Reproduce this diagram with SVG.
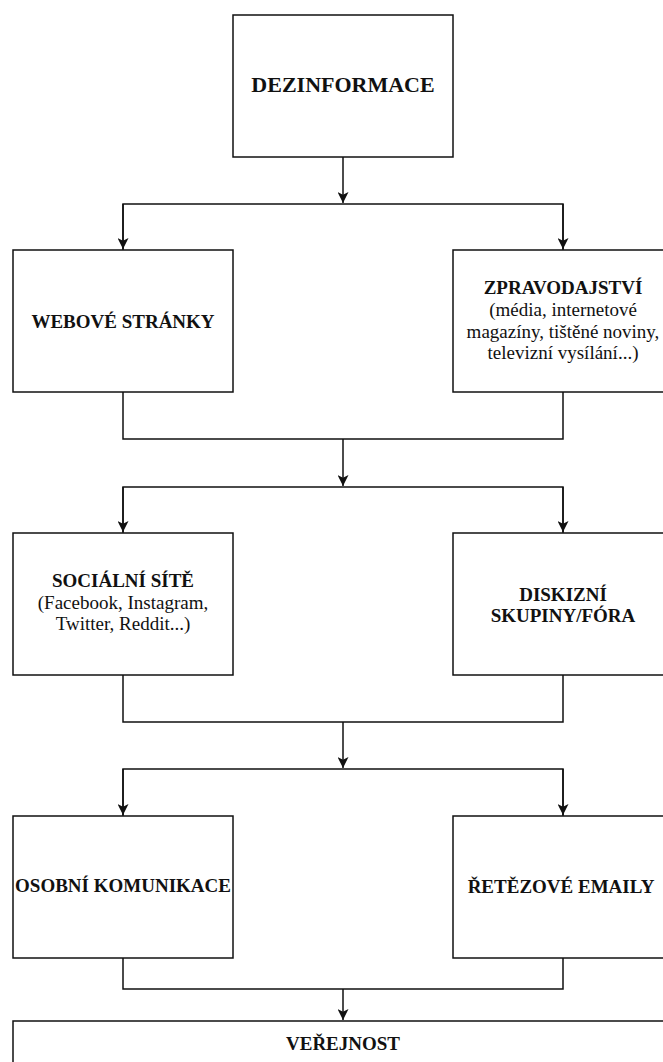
<svg xmlns="http://www.w3.org/2000/svg" width="663" height="1062" viewBox="0 0 663 1062">
<style>
.box{fill:#fff;stroke:#111;stroke-width:1.5}
.ln{fill:none;stroke:#111;stroke-width:1.5}
text{font-family:'Liberation Serif','Tinos','Times New Roman','DejaVu Serif',serif;font-size:19px;fill:#111;text-anchor:middle}
.b{font-weight:bold}
.title{font-size:22px}
</style>
<defs>
<marker id="arr" viewBox="0 0 10 10" refX="10" refY="5" markerWidth="11" markerHeight="11" markerUnits="userSpaceOnUse" orient="auto">
<path d="M0,0 L10,5 L0,10 L2.5,5 z" fill="#111"/>
</marker>
</defs>
<rect width="663" height="1062" fill="#fff"/>
<g id="connectors">
<path class="ln" d="M343,157 V203" marker-end="url(#arr)"/>
<path class="ln" d="M123,250 V204 H563 V250"/>
<path class="ln" d="M123,204 V249" marker-end="url(#arr)"/>
<path class="ln" d="M563,204 V249" marker-end="url(#arr)"/>
<path class="ln" d="M123,392 V439 H563 V392"/>
<path class="ln" d="M343,439 V486" marker-end="url(#arr)"/>
<path class="ln" d="M123,533 V487 H563 V533"/>
<path class="ln" d="M123,487 V532" marker-end="url(#arr)"/>
<path class="ln" d="M563,487 V532" marker-end="url(#arr)"/>
<path class="ln" d="M123,675 V722 H563 V675"/>
<path class="ln" d="M343,722 V768" marker-end="url(#arr)"/>
<path class="ln" d="M123,816 V769 H563 V816"/>
<path class="ln" d="M123,769 V815" marker-end="url(#arr)"/>
<path class="ln" d="M563,769 V815" marker-end="url(#arr)"/>
<path class="ln" d="M123,958 V989 H563 V958"/>
<path class="ln" d="M343,989 V1020" marker-end="url(#arr)"/>
</g>
<g id="dezinformace">
<rect class="box" x="233" y="15" width="220" height="142"/>
<text class="b title" x="343" y="92">DEZINFORMACE</text>
</g>
<g id="webove-stranky">
<rect class="box" x="13" y="250" width="220" height="142"/>
<text class="b" x="123" y="328">WEBOVÉ STRÁNKY</text>
</g>
<g id="zpravodajstvi">
<rect class="box" x="453" y="250" width="220" height="142"/>
<text x="563" y="294"><tspan class="b">ZPRAVODAJSTVÍ</tspan><tspan x="563" dy="22">(média, internetové</tspan><tspan x="563" dy="21.5">magazíny, tištěné noviny,</tspan><tspan x="563" dy="21.5">televizní vysílání...)</tspan></text>
</g>
<g id="socialni-site">
<rect class="box" x="13" y="533" width="220" height="142"/>
<text x="123" y="587"><tspan class="b">SOCIÁLNÍ SÍTĚ</tspan><tspan x="123" dy="21.5">(Facebook, Instagram,</tspan><tspan x="123" dy="21.5">Twitter, Reddit...)</tspan></text>
</g>
<g id="diskizni-skupiny">
<rect class="box" x="453" y="533" width="220" height="142"/>
<text class="b" x="563" y="600.5"><tspan>DISKIZNÍ</tspan><tspan x="563" dy="21.5">SKUPINY/FÓRA</tspan></text>
</g>
<g id="osobni-komunikace">
<rect class="box" x="13" y="816" width="220" height="142"/>
<text class="b" x="123" y="892">OSOBNÍ KOMUNIKACE</text>
</g>
<g id="retezove-emaily">
<rect class="box" x="453" y="816" width="220" height="142"/>
<text class="b" x="561" y="892.5">ŘETĚZOVÉ EMAILY</text>
</g>
<g id="verejnost">
<rect class="box" x="13" y="1021" width="660" height="60"/>
<text class="b" x="343" y="1050">VEŘEJNOST</text>
</g>
</svg>
